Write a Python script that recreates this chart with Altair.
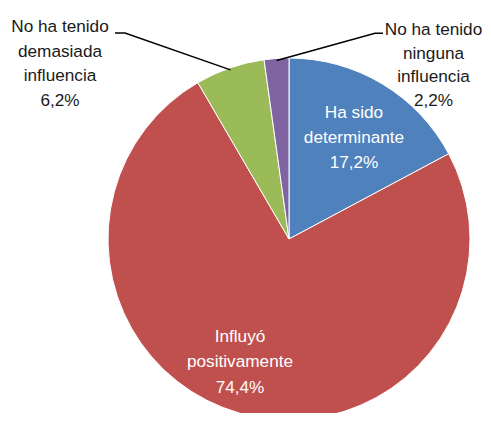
import math
import altair as alt
import pandas as pd

# ---- data ----
categories = [
    "Ha sido determinante",
    "Influyó positivamente",
    "No ha tenido demasiada influencia",
    "No ha tenido ninguna influencia",
]
label_lines = [
    "Ha sido\ndeterminante",
    "Influyó\npositivamente",
    "No ha tenido\ndemasiada\ninfluencia",
    "No ha tenido\nninguna\ninfluencia",
]
values = [17.2, 74.4, 6.2, 2.2]
colors = ["#4F81BD", "#C0504D", "#9BBB59", "#8064A2"]

# ---- layout ----
W, H = 475, 405
CX, CY, R = 281, 231, 181
FONT = "Liberation Sans, Arial, sans-serif"
FS = 17.2
# x center, first baseline, line height, colour
label_pos = {
    categories[0]: (346, 110, 25, "white"),
    categories[1]: (232, 333.5, 25.5, "white"),
    categories[2]: (52, 24.3, 24.5, "#1a1a1a"),
    categories[3]: (425.5, 26.8, 23.8, "#1a1a1a"),
}
# leader line elbows / ends for outside labels
leader_geom = {
    categories[2]: [(117, 25), (107, 25)],
    categories[3]: [(367, 25.3), (375, 25.3)],
}

def fmt(v):
    return f"{v:.1f}".replace(".", ",") + "%"

df = pd.DataFrame({
    "cat": categories,
    "value": values,
    "idx": list(range(len(values))),
    "label": [l + "\n" + fmt(v) for l, v in zip(label_lines, values)],
})

# leader lines derived from slice mid-angles
total = sum(values)
cum = 0
rows = []
for c, v in zip(categories, values):
    mid = (cum + v / 2) / total * 2 * math.pi
    cum += v
    if c in leader_geom:
        sx = CX + (R - 2) * math.sin(mid)
        sy = CY - (R - 2) * math.cos(mid)
        pts = [(sx, sy)] + leader_geom[c]
        for i, (px, py) in enumerate(pts):
            rows.append({"grp": c, "o": i, "px": px, "py": py})
lines_df = pd.DataFrame(rows)

xs = alt.Scale(domain=[0, W], range=[0, W], nice=False, zero=False)
ys = alt.Scale(domain=[0, H], range=[0, H], nice=False, zero=False)

pie = alt.Chart(df).mark_arc(outerRadius=R, stroke="white", strokeWidth=1).encode(
    theta=alt.Theta("value:Q", stack=True),
    color=alt.Color("cat:N", scale=alt.Scale(domain=categories, range=colors), legend=None),
    order=alt.Order("idx:Q"),
    x=alt.value(CX),
    y=alt.value(CY),
)

leaders = alt.Chart(lines_df).mark_line(color="black", strokeWidth=1.5).encode(
    x=alt.X("px:Q", scale=xs, axis=None),
    y=alt.Y("py:Q", scale=ys, axis=None),
    detail="grp:N",
    order="o:Q",
)

layers = [pie, leaders]
for c in categories:
    x, y, lh, col = label_pos[c]
    layers.append(
        alt.Chart(df).transform_filter(alt.datum.cat == c).mark_text(
            font=FONT, fontSize=FS, lineHeight=lh, lineBreak="\n",
            align="center", baseline="alphabetic", color=col,
        ).encode(text="label:N", x=alt.value(x), y=alt.value(y))
    )

chart = alt.layer(*layers).properties(
    width=W, height=H, padding=0,
    autosize=alt.AutoSizeParams(type="none"),
).configure_view(stroke=None)

chart.save("out.html", embed_options={"renderer": "svg", "actions": False})
